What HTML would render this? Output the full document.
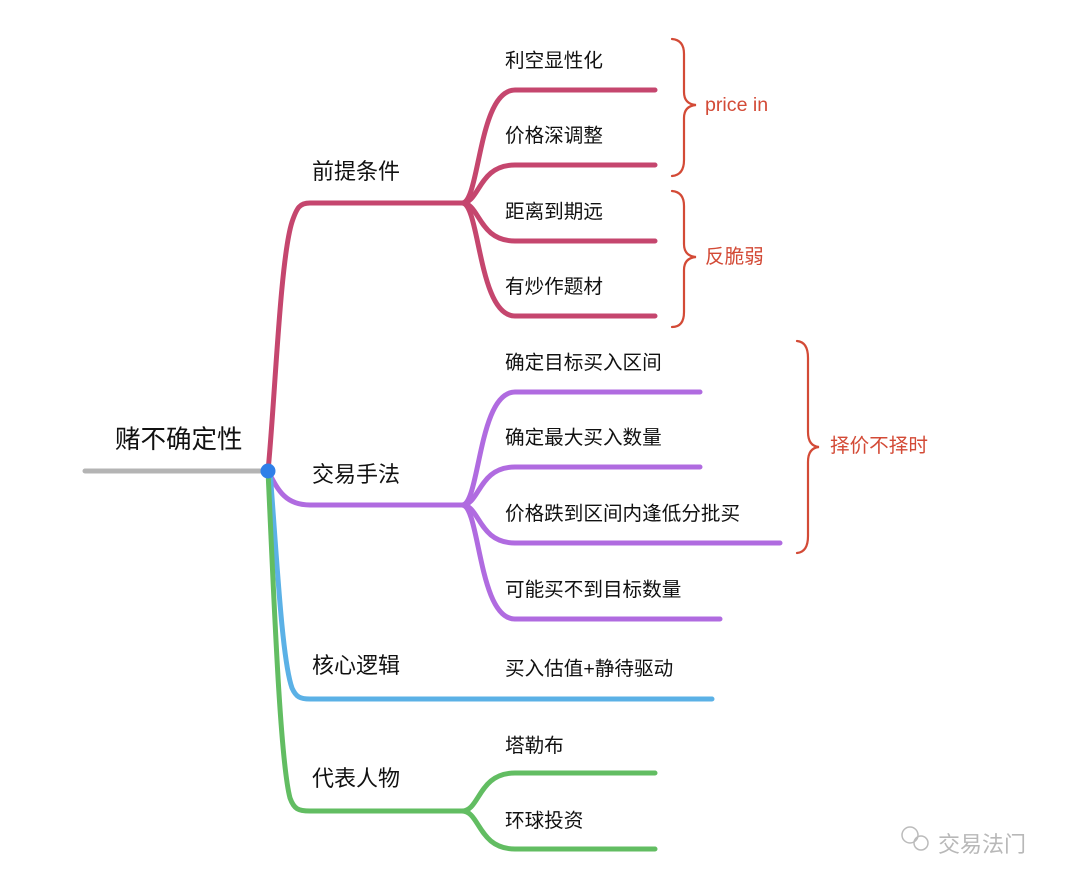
<!DOCTYPE html>
<html><head><meta charset="utf-8"><style>
html,body{margin:0;padding:0;background:#fff;}
svg{display:block;}
text{font-family:"Liberation Sans","Noto Sans CJK SC",sans-serif;}
</style></head><body>
<svg width="1080" height="889" viewBox="0 0 1080 889" xmlns="http://www.w3.org/2000/svg">
<g fill="none" stroke-linecap="round" stroke-width="5">
<path d="M85 471 H268" stroke="#b4b4b4" stroke-width="5"/>
<g stroke="#c5466e">
<path d="M268 471 C275 400 280 260 292 222 C297 207 300 203 310 203 H462"/>
<path d="M462 203 C480 203 478 90 515 90 H655"/>
<path d="M462 203 C480 203 478 165 515 165 H655"/>
<path d="M462 203 C480 203 478 241 515 241 H655"/>
<path d="M462 203 C480 203 478 316 515 316 H655"/>
</g>
<g stroke="#b06be0">
<path d="M268 471 C278 490 285 505 310 505 H462"/>
<path d="M462 505 C480 505 478 392 515 392 H700"/>
<path d="M462 505 C480 505 478 467 515 467 H700"/>
<path d="M462 505 C480 505 478 543 515 543 H780"/>
<path d="M462 505 C480 505 478 619 515 619 H720"/>
</g>
<path d="M270 471 C277 560 282 660 292 688 C296 697 300 699 310 699 H712" stroke="#5bb1e6"/>
<g stroke="#62bd62">
<path d="M268 471 C274 600 280 760 290 798 C294 809 298 811 310 811 H462"/>
<path d="M462 811 C480 811 478 773 515 773 H655"/>
<path d="M462 811 C480 811 478 849 515 849 H655"/>
</g>
<g stroke="#d34a36" stroke-width="2.2">
<path d="M672 39 Q684 40 684 54 V92 Q684 104 696 105 Q684 106 684 118 V160 Q684 175 672 176"/>
<path d="M672 191 Q684 192 684 206 V244 Q684 256 696 257 Q684 258 684 270 V312 Q684 327 672 327"/>
<path d="M797 341 Q808 342 808 358 V432 Q808 446 819 447 Q808 448 808 462 V536 Q808 552 797 553"/>
</g>
</g>
<circle cx="268" cy="471" r="7.5" fill="#2f7fe8"/>
<text x="115" y="448" font-size="25.5" fill="#111">赌不确定性</text>
<g font-size="22" fill="#111">
<text x="312" y="179">前提条件</text>
<text x="312" y="482">交易手法</text>
<text x="312" y="673">核心逻辑</text>
<text x="312" y="786">代表人物</text>
</g>
<g font-size="19.6" fill="#111">
<text x="505" y="67">利空显性化</text>
<text x="505" y="142">价格深调整</text>
<text x="505" y="218">距离到期远</text>
<text x="505" y="293">有炒作题材</text>
<text x="505" y="369">确定目标买入区间</text>
<text x="505" y="444">确定最大买入数量</text>
<text x="505" y="520">价格跌到区间内逢低分批买</text>
<text x="505" y="596">可能买不到目标数量</text>
<text x="505" y="675">买入估值+静待驱动</text>
<text x="505" y="752">塔勒布</text>
<text x="505" y="827">环球投资</text>
</g>
<g font-size="19.6" fill="#d34a36">
<text x="705" y="111">price in</text>
<text x="705" y="263">反脆弱</text>
<text x="830" y="452">择价不择时</text>
</g>
<g fill="none" stroke="#bbb" stroke-width="1.5">
<circle cx="910" cy="835" r="8"/><circle cx="921" cy="843" r="7"/>
</g>
<text x="938" y="852" font-size="22" fill="#b8b8b8">交易法门</text>
</svg>
</body></html>
